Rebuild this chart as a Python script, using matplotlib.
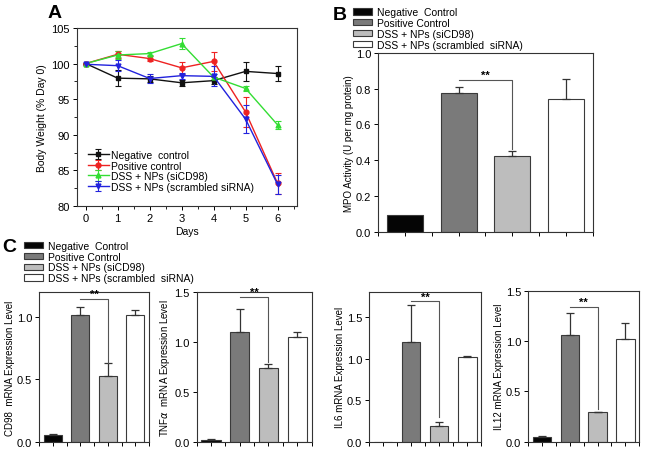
import matplotlib
matplotlib.use("Agg")
import matplotlib.pyplot as plt
from matplotlib.patches import Patch
from matplotlib.ticker import MultipleLocator, FormatStrFormatter

plt.rcParams['font.family'] = ['Liberation Sans', 'DejaVu Sans']
plt.rcParams['font.size'] = 7

# Panel A: body weight over days
days = [0, 1, 2, 3, 4, 5, 6]
neg_bw = [100, 97.95, 97.85, 97.3, 97.6, 98.9, 98.6]
neg_bw_err = [0.1, 1.1, 0.4, 0.4, 0.5, 1.3, 1.0]
pos_bw = [100, 101.3, 100.7, 99.4, 100.3, 93.2, 83.2]
pos_bw_err = [0.1, 0.5, 0.3, 0.8, 1.3, 2.1, 1.5]
si_bw = [100, 101.2, 101.4, 102.8, 98.1, 96.5, 91.4]
si_bw_err = [0.1, 0.6, 0.2, 0.8, 0.4, 0.3, 0.6]
scr_bw = [99.9, 99.7, 97.9, 98.3, 98.2, 92.2, 83.05]
scr_bw_err = [0.1, 0.8, 0.6, 0.4, 1.4, 2.0, 1.3]

line_labels = ['Negative  control', 'Positive control',
               'DSS + NPs (siCD98)', 'DSS + NPs (scrambled siRNA)']
bar_labels = ['Negative  Control', 'Positive Control',
              'DSS + NPs (siCD98)', 'DSS + NPs (scrambled  siRNA)']

# Panel B: MPO activity
mpo = [0.095, 0.775, 0.425, 0.74]
mpo_err = [0.0, 0.035, 0.025, 0.115]

# Panel C: mRNA expression
cd98 = [0.05, 1.02, 0.53, 1.02]
cd98_err = [0.01, 0.06, 0.10, 0.04]
tnf = [0.02, 1.10, 0.74, 1.05]
tnf_err = [0.005, 0.23, 0.04, 0.05]
il6 = [0.0, 1.20, 0.19, 1.02]
il6_err = [0.0, 0.45, 0.05, 0.01]
il12 = [0.04, 1.06, 0.29, 1.02]
il12_err = [0.01, 0.22, 0.005, 0.16]

bar_colors = ['#050505', '#7a7a7a', '#bdbdbd', '#ffffff']
edge = '#3a3a3a'

fig = plt.figure(figsize=(6.45, 4.52), dpi=100)


def style_axes(ax):
    for s in ax.spines.values():
        s.set_linewidth(0.8)
        s.set_color('#333333')
    ax.tick_params(direction='out', length=3, width=0.7, pad=2, labelsize=8)
    ax.tick_params(which='minor', direction='out', length=2, width=0.6)


# ---- A ----
axA = fig.add_axes([0.119, 0.542, 0.341, 0.394])
line_colors = ['#111111', '#ee2222', '#33dd33', '#2222dd']
markers = ['s', 'o', '^', 'v']
for vals, errs, c, m, lab in zip([neg_bw, pos_bw, si_bw, scr_bw],
                                 [neg_bw_err, pos_bw_err, si_bw_err, scr_bw_err],
                                 line_colors, markers, line_labels):
    axA.errorbar(days, vals, yerr=errs, color=c, marker=m, markersize=3.5,
                 linewidth=1.0, elinewidth=0.8, capsize=2.5, capthick=0.8, label=lab)
axA.set_xlim(-0.28, 6.6)
axA.set_ylim(80, 105)
axA.xaxis.set_major_locator(MultipleLocator(1))
axA.xaxis.set_minor_locator(MultipleLocator(0.5))
axA.yaxis.set_major_locator(MultipleLocator(5))
axA.yaxis.set_minor_locator(MultipleLocator(2.5))
axA.set_xlabel('Days', fontsize=7.5, labelpad=2)
axA.set_ylabel('Body Weight (% Day 0)', fontsize=7.5, labelpad=3)
style_axes(axA)
axA.legend(loc='lower left', bbox_to_anchor=(0.05, 0.08), frameon=False,
           fontsize=7.5, handlelength=2.0, handletextpad=0.2, labelspacing=0.06,
           borderaxespad=0, borderpad=0)

fig.text(0.073, 0.988, 'A', fontsize=14, fontweight='bold', va='top')


def bar_panel(ax, vals, errs, ylim, major, ylabel, sig_h, sig_low):
    x = [1, 2, 3, 4]
    ax.bar(x, vals, width=0.67, color=bar_colors, edgecolor=edge, linewidth=0.8, zorder=2)
    for xi, v, e in zip(x, vals, errs):
        if e > 0:
            ax.errorbar(xi, v, yerr=[[0], [e]], color='#333333', elinewidth=0.9,
                        capsize=3, capthick=0.9, zorder=3)
    ax.plot([2, 3, 3], [sig_h, sig_h, sig_low], color='#555555', linewidth=0.8, zorder=3)
    ax.text(2.5, sig_h, '**', ha='center', va='bottom', fontsize=8, fontweight='bold')
    ax.set_xlim(0.5, 4.5)
    ax.set_ylim(*ylim)
    ax.set_xticks([0.5, 1, 1.5, 2, 2.5, 3, 3.5, 4, 4.5])
    ax.set_xticklabels([])
    ax.yaxis.set_major_locator(MultipleLocator(major))
    ax.yaxis.set_major_formatter(FormatStrFormatter('%.1f'))
    ax.set_ylabel(ylabel, fontsize=7, labelpad=1.5)
    style_axes(ax)


# ---- B ----
axB = fig.add_axes([0.586, 0.485, 0.333, 0.396])
bar_panel(axB, mpo, mpo_err, (0, 1.0), 0.2, 'MPO Activity (U per mg protein)', 0.85, 0.46)

handles = [Patch(facecolor=c, edgecolor=edge, linewidth=0.8) for c in bar_colors]
fig.legend(handles, bar_labels, loc='upper left', bbox_to_anchor=(0.548, 0.982),
           frameon=False, fontsize=7.5, handlelength=1.8, handleheight=0.55,
           handletextpad=0.5, labelspacing=0.08, borderpad=0, borderaxespad=0)
fig.text(0.516, 0.985, 'B', fontsize=14, fontweight='bold', va='top')

# ---- C ----
c_specs = [
    ([0.0605, 0.021, 0.1705, 0.330], cd98, cd98_err, (0, 1.2), 'CD98  mRNA Expression Level', 1.15, 0.63),
    ([0.305, 0.021, 0.178, 0.330], tnf, tnf_err, (0, 1.5), r'TNF$\alpha$  mRNA Expression Level', 1.45, 0.80),
    ([0.572, 0.021, 0.174, 0.330], il6, il6_err, (0, 1.8), 'IL6 mRNA Expression Level', 1.69, 0.30),
    ([0.819, 0.021, 0.172, 0.333], il12, il12_err, (0, 1.5), 'IL12 mRNA Expression Level', 1.34, 0.32),
]
for rect, vals, errs, ylim, ylab, sh, sl in c_specs:
    ax = fig.add_axes(rect)
    bar_panel(ax, vals, errs, ylim, 0.5, ylab, sh, sl)

fig.legend(handles, bar_labels, loc='upper left', bbox_to_anchor=(0.037, 0.465),
           frameon=False, fontsize=7.5, handlelength=1.8, handleheight=0.55,
           handletextpad=0.5, labelspacing=0.08, borderpad=0, borderaxespad=0)
fig.text(0.004, 0.472, 'C', fontsize=14, fontweight='bold', va='top')

fig.savefig('out.png', dpi=100)
